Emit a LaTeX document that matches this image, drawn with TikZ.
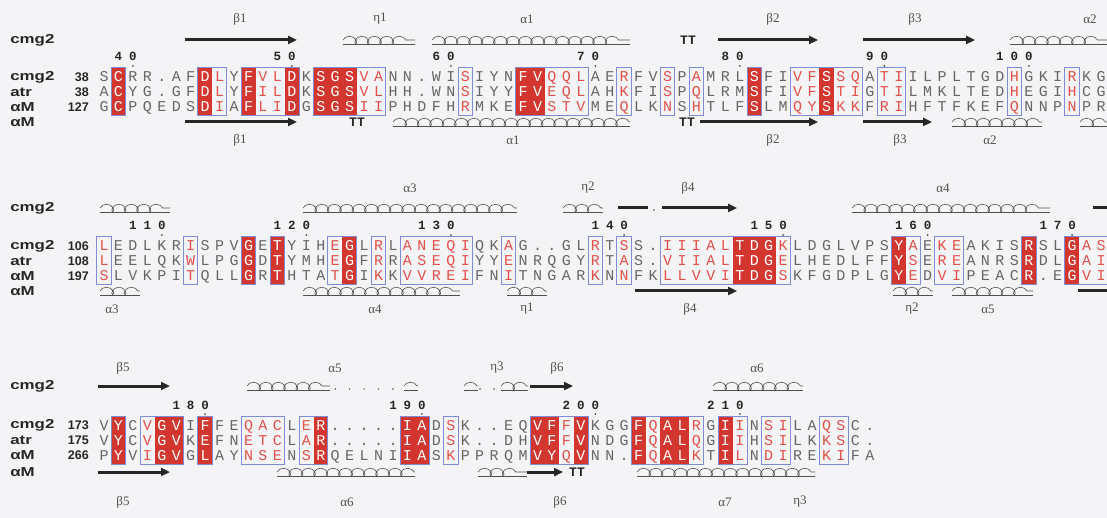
\documentclass[tikz,border=0pt]{standalone}
\usepackage{fontspec}
\setmainfont{Liberation Serif}
\newfontfamily\monof{Liberation Mono}
\newfontfamily\sansf{Liberation Sans}
\usetikzlibrary{arrows.meta,decorations.pathmorphing}
\definecolor{bgc}{HTML}{F4F4F6}
\definecolor{redbox}{HTML}{D2362E}
\definecolor{resred}{HTML}{E2504A}
\definecolor{resgray}{HTML}{666666}
\definecolor{bfr}{HTML}{7F8BD6}
\definecolor{inkc}{HTML}{262626}
\definecolor{labc}{HTML}{505050}
\newcount\colidx
\makeatletter
\def\SeqRow#1#2{\def\seqy{#1}\colidx=0 \seq@loop#2\relax}
\def\seq@loop#1{\ifx#1\relax\else\seq@place{#1}\advance\colidx by 1 \expandafter\seq@loop\fi}
\def\seq@place#1{\edef\seq@c{\the\colidx}%
  \ifcase\csname cls\seq@c\endcsname\relax
    \node[resn] at ({104+14.45*\seq@c},{\seqy+5}) {#1};%
  \or\node[resr] at ({104+14.45*\seq@c},{\seqy+5}) {#1};%
  \or\node[resw] at ({104+14.45*\seq@c},{\seqy+5}) {#1};%
  \fi}
\def\NumAt#1#2#3{\def\seqy{#1}\colidx=#2 \num@loop#3\relax}
\def\num@loop#1{\ifx#1\relax\num@dot\else\edef\seq@c{\the\colidx}\node[numf] at ({104+14.45*\seq@c},{\seqy+4}) {#1};\advance\colidx by 1 \expandafter\num@loop\fi}
\def\num@dot{\edef\seq@c{\the\numexpr\colidx-1\relax}\fill[labc] ({104+14.45*\seq@c},{\seqy+9}) circle (1pt);}
\makeatother
\newcommand\SetupBlock[2]{%
  \foreach \k in {0,...,69}{\expandafter\xdef\csname cls\k\endcsname{0}}%
  \foreach \fa/\fb in #2{\foreach \k in {\fa,...,\fb}{\expandafter\xdef\csname cls\k\endcsname{1}}}%
  \foreach \k in #1{\expandafter\xdef\csname cls\k\endcsname{2}}}
\newcommand\Boxes[3]{%
  \foreach \k in #2{\fill[redbox] ({104+14.45*(\k-0.5)},{#1-9}) rectangle ({104+14.45*(\k+0.5)},{#1+39});}%
  \foreach \fa/\fb in #3{\draw[bframe] ({104+14.45*(\fa-0.5)},{#1-9}) rectangle ({104+14.45*(\fb+0.5)},{#1+39});}}
\newcommand\Helix[3]{\draw[helixbase] (#1,#3) -- (#2,#3); \draw[helixcoil] (#1,{#3-4}) -- (#2,{#3-4});}
\newcommand\Gdot[2]{\fill[labc] (#1,#2) circle (0.8pt);}
\def\redsA{1,7,10,13,15,16,17,29,30,45,50}
\def\framesA{1/1,7/8,10/13,15/19,25/25,29/33,36/36,39/39,41/41,45/45,48/52,54/55,63/63,67/67}
\def\redsB{10,12,17,44,45,46,55,64,67}
\def\framesB{0/0,6/6,10/10,12/12,16/17,19/19,21/25,28/28,34/34,36/36,39/47,55/56,58/59,64/64,67/69}
\def\redsC{1,4,5,7,15,21,22,30,31,33,37,39,40,43}
\def\framesC{1/1,3/5,7/7,10/12,14/15,21/22,24/24,30/33,37/41,43/44,46/47,50/51}
\begin{document}
\begin{tikzpicture}[x=1pt,y=-1pt,
  resn/.style={font=\monof\fontsize{15}{15}\selectfont,text=resgray,anchor=base,inner sep=0pt},
  resr/.style={resn,text=resred},
  resw/.style={resn,text=white},
  numf/.style={font=\monof\bfseries\fontsize{12.5}{12.5}\selectfont,text=inkc,anchor=base,inner sep=0pt},
  namef/.style={font=\sansf\bfseries\fontsize{13}{13}\selectfont,text=inkc,anchor=west,inner sep=0pt,xscale=1.3},
  snum/.style={font=\sansf\bfseries\fontsize{12.5}{12.5}\selectfont,text=inkc,anchor=east,inner sep=0pt},
  lab/.style={font=\fontsize{13}{13}\selectfont,text=labc,inner sep=0pt},
  ttf/.style={font=\monof\bfseries\fontsize{13}{13}\selectfont,text=inkc,inner sep=0pt},
  strand/.style={line width=3pt,draw=inkc,-{Triangle[length=9pt,width=8pt]}},
  bar/.style={line width=3pt,draw=inkc},
  bframe/.style={draw=bfr,line width=1pt},
  helixbase/.style={draw=labc,line width=0.5pt},
  helixcoil/.style={draw=labc,line width=0.6pt,decorate,decoration={coil,amplitude=3.8pt,segment length=12.4pt,aspect=0.9}}]
\fill[bgc] (0,0) rectangle (1107,518);
\useasboundingbox (0,0) rectangle (1107,518);
% ================= BLOCK 1 =================
\SetupBlock{\redsA}{\framesA}
\Boxes{77}{\redsA}{\framesA}
\SeqRow{77}{SCRR.AFDLYFVLDKSGSVANN.WISIYNFVQQLAERFVSPAMRLSFIVFSSQATIILPLTGDHGKIRKG}
\SeqRow{92}{ACYG.GFDLYFILDKSGSVLHH.WNSIYYFVEQLAHKFISPQLRMSFIVFSTIGTILMKLTEDHEGIHCG}
\SeqRow{107}{GCPQEDSDIAFLIDGSGSIIPHDFHRMKEFVSTVMEQLKNSHTLFSLMQYSKKFRIHFTFKEFQNNPNPR}
\node[namef] (n1a) at (10,40) {cmg2};
\node[namef] (n1b) at (10,77) {cmg2};
\node[namef] (n1c) at (10,92) {atr};
\node[namef] (n1d) at (10,107) {αM};
\node[namef] (n1e) at (10,122) {αM};
\node[snum] (s1b) at (89,77) {38};
\node[snum] (s1c) at (89,92) {38};
\node[snum] (s1d) at (89,107) {127};
\NumAt{57}{1}{40}\NumAt{57}{12}{50}\NumAt{57}{23}{60}\NumAt{57}{33}{70}
\NumAt{57}{43}{80}\NumAt{57}{53}{90}\NumAt{57}{62}{100}
% top structure
\draw[strand] (185,40) -- (297,40);
\node[lab] (t1a) at (240,19) {β1};
\Helix{343}{415}{44}
\node[lab] (t1b) at (380,19) {η1};
\Helix{432}{630}{44}
\node[lab] (t1c) at (527,19) {α1};
\node[ttf] (tt1a) at (688,40) {TT};
\draw[strand] (718,40) -- (818,40);
\node[lab] (t1d) at (773,19) {β2};
\draw[strand] (863,40) -- (975,40);
\node[lab] (t1e) at (915,19) {β3};
\Helix{1010}{1107}{44}
\node[lab] (t1f) at (1090,19) {α2};
% bottom structure
\draw[strand] (185,122) -- (297,122);
\node[lab] (b1a) at (240,140) {β1};
\node[ttf] (tt1b) at (357,122) {TT};
\Helix{393}{630}{126}
\node[lab] (b1b) at (513,140) {α1};
\node[ttf] (tt1c) at (687,122) {TT};
\draw[strand] (700,122) -- (818,122);
\node[lab] (b1c) at (773,140) {β2};
\draw[strand] (863,122) -- (932,122);
\node[lab] (b1d) at (900,140) {β3};
\Helix{952}{1042}{126}
\node[lab] (b1e) at (990,140) {α2};
\Helix{1080}{1107}{126}
% ================= BLOCK 2 =================
\SetupBlock{\redsB}{\framesB}
\Boxes{246}{\redsB}{\framesB}
\SeqRow{246}{LEDLKRISPVGETYIHEGLRLANEQIQKAG..GLRTSS.IIIALTDGKLDGLVPSYAEKEAKISRSLGAS}
\SeqRow{261}{LEELQKWLPGGDTYMHEGFRRASEQIYYENRQGYRTAS.VIIALTDGELHEDLFFYSEREANRSRDLGAI}
\SeqRow{276}{SLVKPITQLLGRTHTATGIKKVVREIFNITNGARKNNFKLLVVITDGSKFGDPLGYEDVIPEACR.EGVI}
\node[namef] (n2a) at (10,208) {cmg2};
\node[namef] (n2b) at (10,246) {cmg2};
\node[namef] (n2c) at (10,261) {atr};
\node[namef] (n2d) at (10,276) {αM};
\node[namef] (n2e) at (10,291) {αM};
\node[snum] (s2b) at (89,246) {106};
\node[snum] (s2c) at (89,261) {108};
\node[snum] (s2d) at (89,276) {197};
\NumAt{226}{2}{110}\NumAt{226}{12}{120}\NumAt{226}{22}{130}\NumAt{226}{34}{140}
\NumAt{226}{45}{150}\NumAt{226}{55}{160}\NumAt{226}{65}{170}
% top structure
\Helix{100}{170}{212}
\Helix{303}{517}{212}
\node[lab] (t2a) at (410,188) {α3};
\Helix{563}{603}{212}
\node[lab] (t2b) at (588,188) {η2};
\draw[bar] (618,208) -- (648,208);
\Gdot{654}{210}
\draw[strand] (662,208) -- (737,208);
\node[lab] (t2c) at (688,188) {β4};
\Helix{852}{1050}{212}
\node[lab] (t2d) at (943,188) {α4};
\draw[bar] (1093,208) -- (1107,208);
% bottom structure
\Helix{100}{140}{295}
\node[lab] (b2a) at (112,309) {α3};
\Helix{303}{460}{295}
\node[lab] (b2b) at (375,309) {α4};
\Helix{507}{547}{295}
\node[lab] (b2c) at (527,309) {η1};
\draw[strand] (635,291) -- (737,291);
\node[lab] (b2d) at (690,309) {β4};
\Helix{893}{933}{295}
\node[lab] (b2e) at (912,309) {η2};
\Helix{952}{1033}{295}
\node[lab] (b2f) at (988,309) {α5};
\draw[bar] (1078,291) -- (1107,291);
% ================= BLOCK 3 =================
\SetupBlock{\redsC}{\framesC}
\Boxes{425}{\redsC}{\framesC}
\SeqRow{425}{VYCVGVIFFEQACLER.....IADSK..EQVFFVKGGFQALRGIINSILAQSC.}
\SeqRow{440}{VYCVGVKEFNETCLAR.....IADSK..DHVFFVNDGFQALQGIIHSILKKSC.}
\SeqRow{455}{PYVIGVGLAYNSENSRQELNIIASKPPRQMVYQVNN.FQALKTILNDIREKIFA}
\node[namef] (n3a) at (10,386) {cmg2};
\node[namef] (n3b) at (10,425) {cmg2};
\node[namef] (n3c) at (10,440) {atr};
\node[namef] (n3d) at (10,455) {αM};
\node[namef] (n3e) at (10,472) {αM};
\node[snum] (s3b) at (89,425) {173};
\node[snum] (s3c) at (89,440) {175};
\node[snum] (s3d) at (89,455) {266};
\NumAt{405}{5}{180}\NumAt{405}{20}{190}\NumAt{405}{32}{200}\NumAt{405}{42}{210}
% top structure
\draw[strand] (98,386) -- (170,386);
\node[lab] (t3a) at (123,368) {β5};
\Helix{247}{330}{390}
\foreach \k in {16,...,20}{\Gdot{104+14.45*\k}{389}}
\Helix{404}{418}{390}
\node[lab] (t3b) at (335,368) {α5};
\Helix{464}{478}{390}
\Gdot{480}{389}\Gdot{494}{389}
\Helix{501}{528}{390}
\node[lab] (t3c) at (497,368) {η3};
\draw[strand] (530,386) -- (573,386);
\node[lab] (t3d) at (557,368) {β6};
\Helix{713}{803}{390}
\node[lab] (t3e) at (757,368) {α6};
% bottom structure
\draw[strand] (98,472) -- (170,472);
\node[lab] (b3a) at (123,502) {β5};
\Helix{277}{415}{476}
\node[lab] (b3b) at (347,502) {α6};
\Helix{478}{527}{476}
\draw[strand] (527,472) -- (563,472);
\node[ttf] (tt3a) at (577,472) {TT};
\node[lab] (b3c) at (560,502) {β6};
\Helix{637}{815}{476}
\node[lab] (b3d) at (725,502) {α7};
\node[lab] (b3e) at (800,502) {η3};
\end{tikzpicture}
\end{document}
